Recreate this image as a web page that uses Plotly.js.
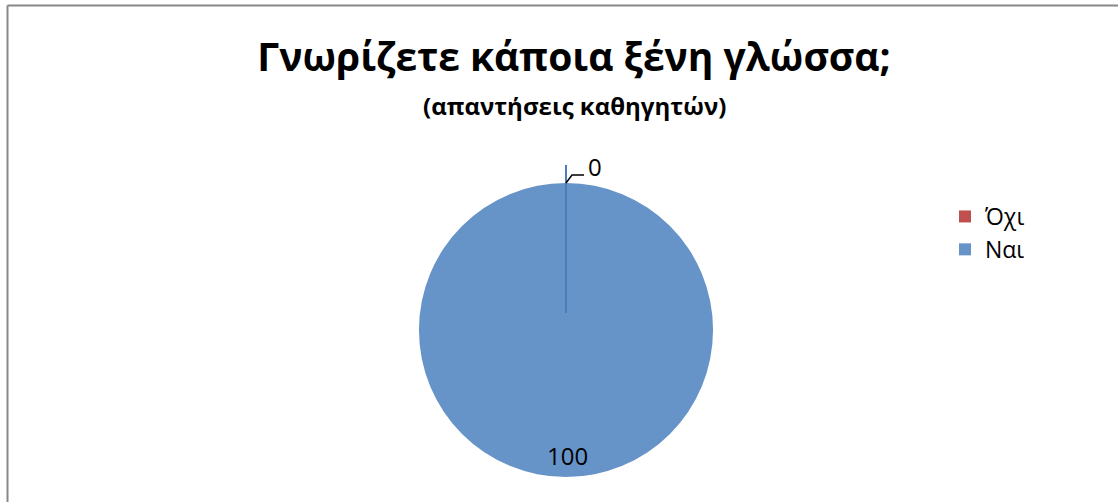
<!DOCTYPE html>
<html><head><meta charset="utf-8">
<script src="https://cdn.plot.ly/plotly-3.0.1.min.js"></script>
<style>html,body{margin:0;padding:0;background:#fff;}#chart{width:1118px;height:502px;}</style>
</head><body><div id="chart"></div>
<script>
const labels = ['Όχι', 'Ναι'];
const values = [0, 100];
const colors = ['#C0504D', '#6794C8'];
const titleText = 'Γνωρίζετε κάποια ξένη γλώσσα;';
const subtitleText = '(απαντήσεις καθηγητών)';

const W = 1118, H = 502;
const px = x => x / W, py = y => 1 - y / H;
const FONT = 'Open Sans, Noto Sans, sans-serif';

const trace = {
  type: 'pie', labels: labels, values: values, sort: false,
  direction: 'counterclockwise', rotation: 0,
  marker: {colors: colors, line: {width: 0}},
  textinfo: 'none', hoverinfo: 'label+value',
  domain: {x: [px(419), px(713)], y: [py(477), py(183)]}
};

const layout = {
  width: W, height: H, margin: {l: 0, r: 0, t: 0, b: 0},
  paper_bgcolor: '#fff',
  font: {family: FONT, color: '#000'},
  title: {text: '<b>' + titleText + '</b>', font: {family: FONT, size: 39, color: '#000'},
          x: px(574), xanchor: 'center', y: py(57), yanchor: 'middle', xref: 'paper', yref: 'paper'},
  showlegend: true,
  legend: {x: px(945), y: py(195), xanchor: 'left', yanchor: 'top', font: {size: 23, family: FONT}, bgcolor: 'rgba(0,0,0,0)', tracegroupgap: 0},
  annotations: [
    {text: '<b>' + subtitleText + '</b>', x: px(574), y: py(105), xref: 'paper', yref: 'paper',
     xanchor: 'center', yanchor: 'middle', showarrow: false, font: {size: 24, family: FONT}},
    {text: String(values[0]), x: px(595), y: py(167), xref: 'paper', yref: 'paper',
     xanchor: 'center', yanchor: 'middle', showarrow: false, font: {size: 24, family: FONT}},
    {text: String(values[1]), x: px(567), y: py(455), xref: 'paper', yref: 'paper',
     xanchor: 'center', yanchor: 'middle', showarrow: false, font: {size: 24, family: FONT}}
  ],
  shapes: [
    {type: 'line', xref: 'paper', yref: 'paper', x0: px(7.5), x1: px(7.5), y0: py(5.5), y1: 0, line: {color: '#888', width: 2}},
    {type: 'line', xref: 'paper', yref: 'paper', x0: px(7.5), x1: 1, y0: py(5.5), y1: py(5.5), line: {color: '#888', width: 2}},
    {type: 'line', xref: 'paper', yref: 'paper', x0: px(566), x1: px(566), y0: py(313), y1: py(165), line: {color: '#4A7EBB', width: 2}},
    {type: 'path', xref: 'paper', yref: 'paper', line: {color: '#000', width: 1.5},
     path: 'M ' + px(566) + ',' + py(183) + ' L ' + px(572) + ',' + py(175) + ' L ' + px(584) + ',' + py(175)}
  ]
};

Plotly.newPlot('chart', [trace], layout, {displayModeBar: false, staticPlot: true});
</script></body></html>
